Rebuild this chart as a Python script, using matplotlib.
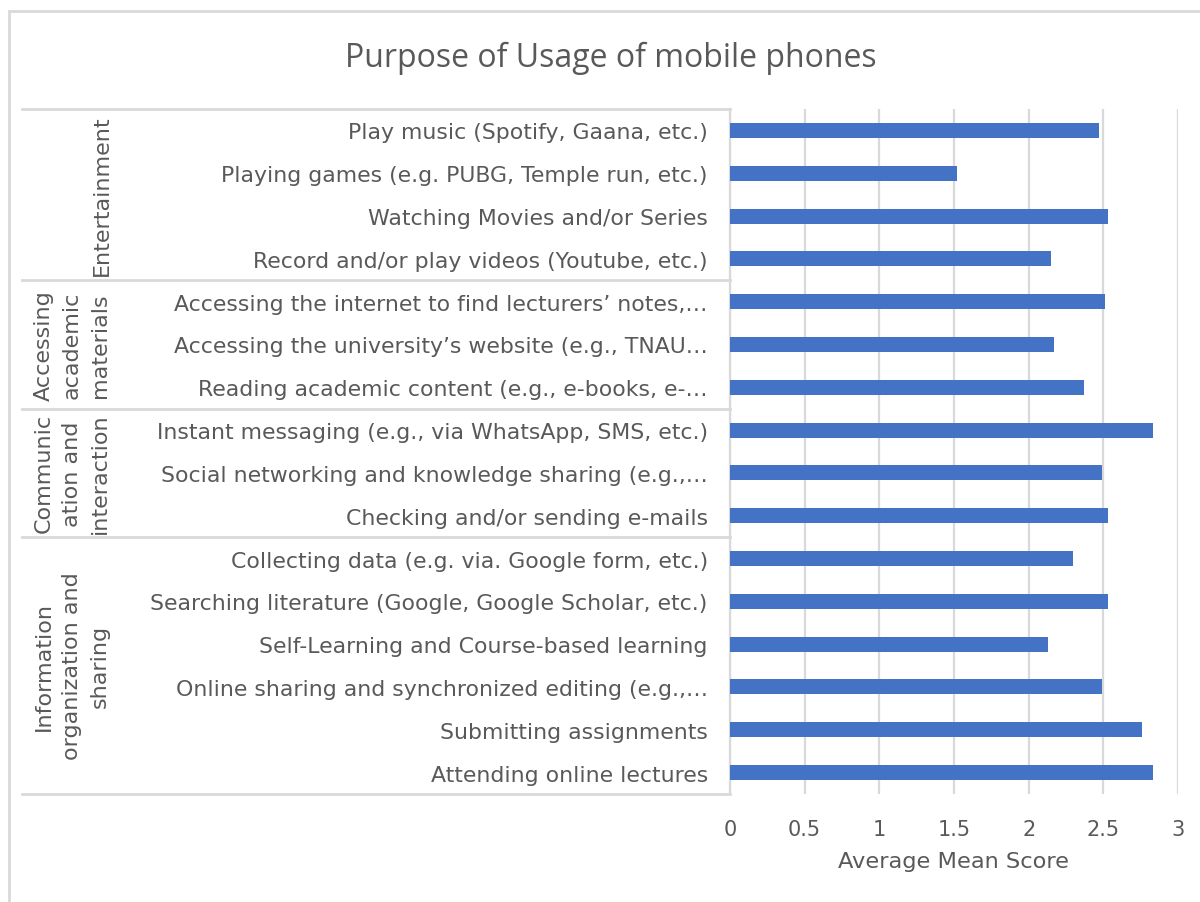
import matplotlib.pyplot as plt
import matplotlib.transforms as mtransforms
from matplotlib.patches import Rectangle

# data (top to bottom)
labels = [
    "Play music (Spotify, Gaana, etc.)",
    "Playing games (e.g. PUBG, Temple run, etc.)",
    "Watching Movies and/or Series",
    "Record and/or play videos (Youtube, etc.)",
    "Accessing the internet to find lecturers’ notes,…",
    "Accessing the university’s website (e.g., TNAU…",
    "Reading academic content (e.g., e-books, e-…",
    "Instant messaging (e.g., via WhatsApp, SMS, etc.)",
    "Social networking and knowledge sharing (e.g.,…",
    "Checking and/or sending e-mails",
    "Collecting data (e.g. via. Google form, etc.)",
    "Searching literature (Google, Google Scholar, etc.)",
    "Self-Learning and Course-based learning",
    "Online sharing and synchronized editing (e.g.,…",
    "Submitting assignments",
    "Attending online lectures",
]
scores = [2.47, 1.52, 2.53, 2.15, 2.51, 2.17, 2.37, 2.83, 2.49, 2.53,
          2.30, 2.53, 2.13, 2.49, 2.76, 2.83]
groups = [
    "Entertainment",
    "Accessing\nacademic\nmaterials",
    "Communic\nation and\ninteraction",
    "Information\norganization and\nsharing",
]
group_sizes = [4, 3, 3, 6]

TXT = "#595959"
GRID = "#d9d9d9"
BLUE = "#4472c4"
W, H = 1200, 903

fig = plt.figure(figsize=(12, 9.03), dpi=100)
ax = fig.add_axes([730 / W, 1 - 795 / H, 448 / W, 685 / H])

ypos = list(range(len(labels)))
ax.barh(ypos, scores, height=0.35, color=BLUE, zorder=3)
ax.set_ylim(len(labels) - 0.5, -0.5)
ax.set_xlim(0, 3)
ax.set_xticks([0, 0.5, 1, 1.5, 2, 2.5, 3])
ax.set_xticklabels(["0", "0.5", "1", "1.5", "2", "2.5", "3"])
ax.set_yticks(ypos)
ax.set_yticklabels(labels)
ax.tick_params(axis="y", length=0, pad=16, labelsize=15.8, labelcolor=TXT)
ax.tick_params(axis="x", length=0, pad=18, labelsize=15, labelcolor=TXT)
ax.grid(axis="x", color=GRID, linewidth=1.6, zorder=0)
for s in ["top", "right", "bottom"]:
    ax.spines[s].set_visible(False)
ax.spines["left"].set_color(GRID)
ax.spines["left"].set_linewidth(1.6)
ax.set_xlabel("Average Mean Score", fontsize=16.2, color=TXT, labelpad=9)

# multi-level category axis lines and group labels
trans = mtransforms.blended_transform_factory(fig.transFigure, ax.transData)
x0 = 22 / W
x1 = 730 / W
start = -0.5
ax.plot([x0, x1], [start, start], transform=trans, color=GRID, lw=2, clip_on=False)
for g, n in zip(groups, group_sizes):
    end = start + n
    ax.plot([x0, x1], [end, end], transform=trans, color=GRID, lw=2, clip_on=False)
    mid = (start + end) / 2
    if n == 4:
        gx = 102 / W
    else:
        gx = 72 / W
    ax.text(gx, mid, g, transform=trans, rotation=90, ha="center", va="center",
            fontsize=16, color=TXT, linespacing=1.5, multialignment="center")
    start = end

fig.text(611 / W, 1 - 58 / H, "Purpose of Usage of mobile phones", ha="center",
         va="center", fontsize=23, color=TXT, family="Open Sans")

# outer chart border (cropped at right and bottom)
fig.patches.append(Rectangle((9 / W, -0.1), 1.2, 1 - 12 / H + 0.1, transform=fig.transFigure,
                             fill=False, edgecolor=GRID, linewidth=2))

fig.savefig("out.png", dpi=100)
